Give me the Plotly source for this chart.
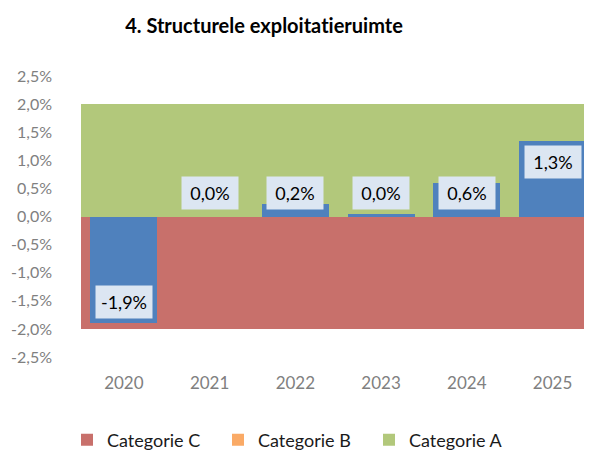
import plotly.graph_objects as go

# ---- data ----
years = ["2020", "2021", "2022", "2023", "2024", "2025"]
values = [-1.9, 0.0, 0.23, 0.04, 0.6, 1.35]
labels = ["-1,9%", "0,0%", "0,2%", "0,0%", "0,6%", "1,3%"]
cat_c = [-2.0] * 6
cat_b = [0.0] * 6
cat_a = [2.0] * 6
ytick_vals = [2.5, 2.0, 1.5, 1.0, 0.5, 0.0, -0.5, -1.0, -1.5, -2.0, -2.5]
ytick_text = ["2,5%", "2,0%", "1,5%", "1,0%", "0,5%", "0,0%", "-0,5%", "-1,0%", "-1,5%", "-2,0%", "-2,5%"]

FONT = "Lato"
RED = "#C8706B"
ORANGE = "#FAAA66"
GREEN = "#B2C87B"
BLUE = "#4F81BD"

# page has an 8px body margin; size the figure so it fits the 592x451 window
W, H = 584, 443

fig = go.Figure()
fig.add_trace(go.Bar(x=years, y=cat_c, name="Categorie C", width=1,
                     marker=dict(color=RED, line=dict(width=0))))
fig.add_trace(go.Bar(x=years, y=cat_b, name="Categorie B", width=1,
                     marker=dict(color=ORANGE, line=dict(width=0))))
fig.add_trace(go.Bar(x=years, y=cat_a, name="Categorie A", width=1,
                     marker=dict(color=GREEN, line=dict(width=0))))
fig.add_trace(go.Bar(x=years, y=values, name="Structurele exploitatieruimte",
                     width=0.78, showlegend=False,
                     marker=dict(color=BLUE, line=dict(width=0))))

annotations = []
for i, (v, t) in enumerate(zip(values, labels)):
    if v >= 0:
        ly = max(v - 0.38, 0.42)
    else:
        ly = min(v + 0.38, -0.42)
    annotations.append(dict(x=i, y=ly, xref="x", yref="y", text=t,
                            showarrow=False, bgcolor="#DCE6F2",
                            width=54, height=30, borderpad=1,
                            font=dict(family=FONT, size=18, color="#000000"),
                            xanchor="center", yanchor="middle"))

fig.update_layout(
    width=W, height=H, autosize=False,
    margin=dict(l=73, r=0, t=68, b=94, autoexpand=False),
    paper_bgcolor="white", plot_bgcolor="white",
    barmode="overlay", bargap=0,
    title=dict(text="<b>4. Structurele exploitat\u200cieruimte</b>",
               x=256/W, xref="container", xanchor="center",
               y=1 - 18/H, yref="container", yanchor="middle",
               font=dict(family=FONT, size=20, color="#000000")),
    xaxis=dict(type="category", range=[-0.5, 5.46], showgrid=False,
               zeroline=False, showline=False, ticks="", automargin=False,
               ticklabelstandoff=14,
               tickfont=dict(family=FONT, size=17, color="#808080")),
    yaxis=dict(range=[-2.5, 2.5], tickvals=ytick_vals, ticktext=ytick_text,
               showgrid=False, zeroline=False, showline=False, ticks="",
               automargin=False, ticklabelstandoff=28,
               tickfont=dict(family=FONT, size=16, color="#808080")),
    legend=dict(orientation="h", x=59/W, xref="container", xanchor="left",
                y=1 - 432/H, yref="container", yanchor="middle",
                entrywidth=106, entrywidthmode="pixels", itemwidth=30,
                font=dict(family=FONT, size=18, color="#1a1a1a"),
                traceorder="normal"),
    annotations=annotations,
)

fig.write_html("out.html")
